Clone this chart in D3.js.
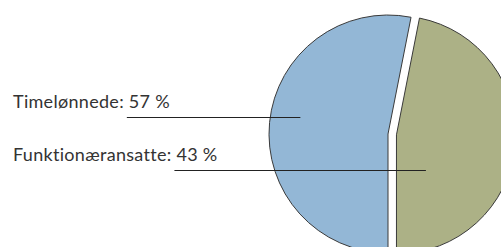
<!DOCTYPE html>
<html>
<head>
<meta charset="utf-8">
<script src="https://cdn.jsdelivr.net/npm/d3@7"></script>
<style>
  html, body { margin: 0; padding: 0; background: #fff; }
  svg { display: block; }
</style>
</head>
<body>
<svg id="chart"></svg>
<script>
var width = 501;
var height = 247;

// data
var categories = ["Timelønnede", "Funktionæransatte"];
var labelPercents = [57, 43];
// share of the circle each slice actually covers in the picture
var sliceShares = [53.1, 46.9];
var colors = ["#93b7d6", "#acb186"];

// layout
var cx = 388, cy = 134, radius = 119;
var explode = [0, 8.5];
var leaderAngle = [281, 140];      // degrees, clockwise from 12 o'clock
var leaderRadius = [0.75, 0.385];  // fraction of radius
var labelX = 13;

var svg = d3.select("#chart")
    .attr("width", width)
    .attr("height", height);

var g = svg.append("g")
    .attr("transform", "translate(" + cx + "," + cy + ")");

var pie = d3.pie()
    .sort(null)
    .startAngle(Math.PI)
    .endAngle(3 * Math.PI)
    .value(function (d) { return d; });

var arc = d3.arc().innerRadius(0).outerRadius(radius);
var slices = pie(sliceShares);

function offsetOf(d, i) {
    var mid = (d.startAngle + d.endAngle) / 2;
    return [explode[i] * Math.sin(mid), -explode[i] * Math.cos(mid)];
}

g.selectAll("path")
    .data(slices)
    .enter()
    .append("path")
    .attr("transform", function (d, i) {
        var o = offsetOf(d, i);
        return "translate(" + o[0] + "," + o[1] + ")";
    })
    .attr("d", arc)
    .style("fill", function (d, i) { return colors[i]; })
    .style("stroke", "#3a3a3a")
    .style("stroke-width", 1);

// labels + leader lines
slices.forEach(function (d, i) {
    var o = offsetOf(d, i);
    var a = leaderAngle[i] * Math.PI / 180;
    var ex = cx + o[0] + leaderRadius[i] * radius * Math.sin(a);
    var ey = cy + o[1] - leaderRadius[i] * radius * Math.cos(a);
    var prefix = categories[i] + ": ";
    var t = svg.append("text")
        .attr("x", labelX)
        .attr("y", ey - 9)
        .style("font-family", "Lato, 'Open Sans', sans-serif")
        .style("font-size", "18px")
        .style("letter-spacing", "0.3px")
        .style("fill", "#333")
        .text(prefix + labelPercents[i] + " %");
    var sx = t.node().getStartPositionOfChar(prefix.length).x - 2;
    svg.append("line")
        .attr("x1", sx)
        .attr("x2", ex)
        .attr("y1", Math.round(ey) + 0.5)
        .attr("y2", Math.round(ey) + 0.5)
        .style("stroke", "#222")
        .style("stroke-width", 1);
});
</script>
</body>
</html>
